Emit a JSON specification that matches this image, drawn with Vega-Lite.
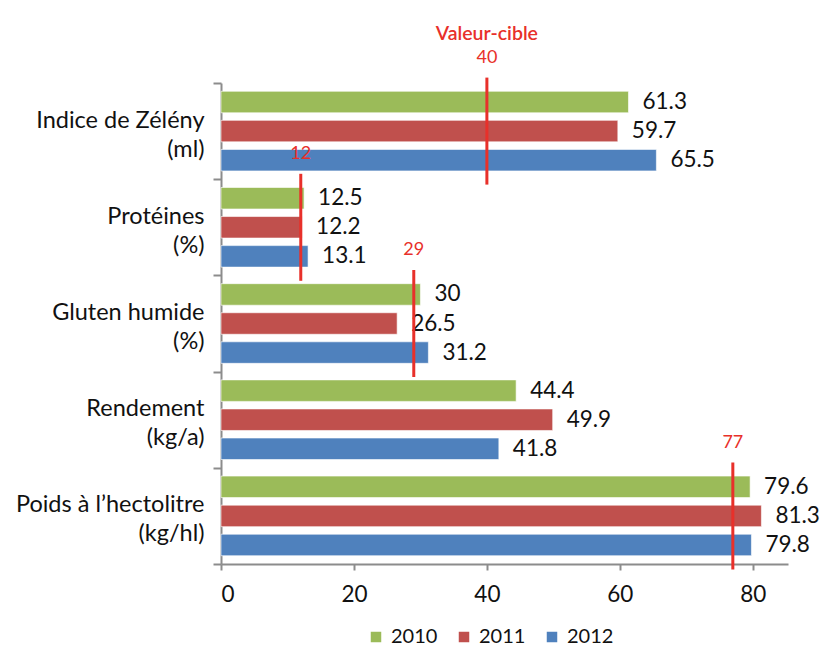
{
  "$schema": "https://vega.github.io/schema/vega-lite/v6.json",
  "width": 567,
  "height": 481,
  "autosize": {"type": "none"},
  "padding": {"left": 221, "top": 83, "right": 37, "bottom": 95},
  "background": "white",
  "config": {
    "view": {"stroke": null},
    "font": "Lato",
    "axis": {"domainColor": "#8c8c8c", "tickColor": "#8c8c8c", "domainWidth": 2, "tickWidth": 2, "labelColor": "#111111", "grid": false, "title": null}
  },
  "datasets": {
    "bars": [
      {"category": "Indice de Zélény (ml)", "year": "2010", "value": 61.3},
      {"category": "Indice de Zélény (ml)", "year": "2011", "value": 59.7},
      {"category": "Indice de Zélény (ml)", "year": "2012", "value": 65.5},
      {"category": "Protéines (%)", "year": "2010", "value": 12.5},
      {"category": "Protéines (%)", "year": "2011", "value": 12.2},
      {"category": "Protéines (%)", "year": "2012", "value": 13.1},
      {"category": "Gluten humide (%)", "year": "2010", "value": 30},
      {"category": "Gluten humide (%)", "year": "2011", "value": 26.5},
      {"category": "Gluten humide (%)", "year": "2012", "value": 31.2},
      {"category": "Rendement (kg/a)", "year": "2010", "value": 44.4},
      {"category": "Rendement (kg/a)", "year": "2011", "value": 49.9},
      {"category": "Rendement (kg/a)", "year": "2012", "value": 41.8},
      {"category": "Poids à l’hectolitre (kg/hl)", "year": "2010", "value": 79.6},
      {"category": "Poids à l’hectolitre (kg/hl)", "year": "2011", "value": 81.3},
      {"category": "Poids à l’hectolitre (kg/hl)", "year": "2012", "value": 79.8}
    ],
    "targets": [
      {"category": "Indice de Zélény (ml)", "target": 40, "note": "Valeur-cible"},
      {"category": "Protéines (%)", "target": 12, "note": ""},
      {"category": "Gluten humide (%)", "target": 29, "note": ""},
      {"category": "Poids à l’hectolitre (kg/hl)", "target": 77, "note": ""}
    ]
  },
  "layer": [
    {
      "data": {"name": "bars"},
      "mark": {"type": "bar", "stroke": "white", "strokeOpacity": 0.6, "strokeWidth": 1},
      "encoding": {
        "y": {
          "field": "category", "type": "nominal",
          "sort": ["Indice de Zélény (ml)", "Protéines (%)", "Gluten humide (%)", "Rendement (kg/a)", "Poids à l’hectolitre (kg/hl)"],
          "scale": {"paddingInner": 0, "paddingOuter": 0},
          "axis": {
            "labelExpr": "[slice(datum.label, 0, indexof(datum.label, ' (')), slice(datum.label, indexof(datum.label, ' (') + 1)]",
            "labelFontSize": 23.5, "labelLineHeight": 29, "labelPadding": 9, "tickSize": 8, "tickBand": "extent", "labelLimit": 300, "labelOffset": -11
          }
        },
        "yOffset": {"field": "year", "type": "nominal", "sort": ["2010", "2011", "2012"], "scale": {"paddingInner": 0.26, "paddingOuter": 0.285}},
        "x": {
          "field": "value", "type": "quantitative",
          "scale": {"domain": [0, 85.3], "nice": false},
          "axis": {"values": [0, 20, 40, 60, 80], "tickSize": 6, "labelFontSize": 22.5, "labelPadding": 13}
        },
        "color": {
          "field": "year", "type": "nominal",
          "scale": {"domain": ["2010", "2011", "2012"], "range": ["#9bbb59", "#c0504d", "#4f81bd"]},
          "legend": {"orient": "none", "legendX": 145, "legendY": 544, "direction": "horizontal", "columns": 3, "gridAlign": "all", "title": null, "symbolType": "square", "symbolSize": 110, "symbolStrokeWidth": 0, "labelFontSize": 20, "labelOffset": 5, "columnPadding": 16, "labelColor": "#111111"}
        }
      }
    },
    {
      "data": {"name": "bars"},
      "mark": {"type": "text", "align": "left", "baseline": "middle", "dx": 14, "fontSize": 22.5, "color": "#111111"},
      "encoding": {
        "y": {"field": "category", "type": "nominal", "sort": ["Indice de Zélény (ml)", "Protéines (%)", "Gluten humide (%)", "Rendement (kg/a)", "Poids à l’hectolitre (kg/hl)"]},
        "yOffset": {"field": "year", "type": "nominal", "sort": ["2010", "2011", "2012"]},
        "x": {"field": "value", "type": "quantitative"},
        "text": {"field": "value", "type": "quantitative"}
      }
    },
    {
      "data": {"name": "targets"},
      "mark": {"type": "tick", "color": "#e8302a", "thickness": 3, "size": 107, "opacity": 1},
      "encoding": {
        "y": {"field": "category", "type": "nominal", "sort": ["Indice de Zélény (ml)", "Protéines (%)", "Gluten humide (%)", "Rendement (kg/a)", "Poids à l’hectolitre (kg/hl)"]},
        "x": {"field": "target", "type": "quantitative"}
      }
    },
    {
      "data": {"name": "targets"},
      "mark": {"type": "text", "color": "#e8302a", "fontSize": 18, "baseline": "middle", "dy": -25},
      "encoding": {
        "y": {"field": "category", "type": "nominal", "bandPosition": 0, "sort": ["Indice de Zélény (ml)", "Protéines (%)", "Gluten humide (%)", "Rendement (kg/a)", "Poids à l’hectolitre (kg/hl)"]},
        "x": {"field": "target", "type": "quantitative"},
        "text": {"field": "target", "type": "quantitative"}
      }
    },
    {
      "data": {"name": "targets"},
      "transform": [{"filter": "datum.note != ''"}],
      "mark": {"type": "text", "color": "#e8302a", "fontSize": 19.5, "fontWeight": 600, "baseline": "middle", "dy": -49},
      "encoding": {
        "y": {"field": "category", "type": "nominal", "bandPosition": 0, "sort": ["Indice de Zélény (ml)", "Protéines (%)", "Gluten humide (%)", "Rendement (kg/a)", "Poids à l’hectolitre (kg/hl)"]},
        "x": {"field": "target", "type": "quantitative"},
        "text": {"field": "note"}
      }
    }
  ]
}
